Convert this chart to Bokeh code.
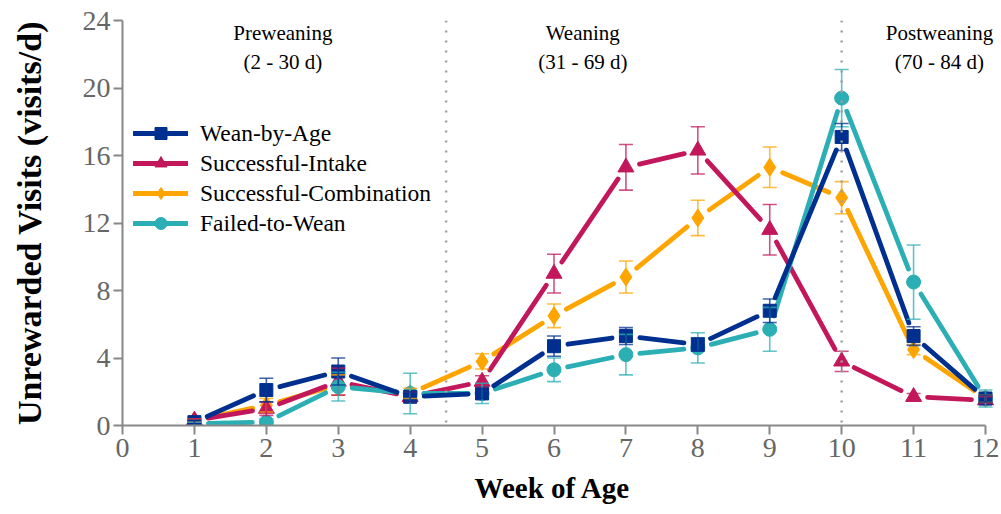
import numpy as np
from bokeh.plotting import figure
from bokeh.models import (ColumnDataSource, Whisker, TeeHead, Span, Legend,
                          LegendItem, Range1d, FixedTicker, Label, Title)
from bokeh.embed import file_html
from bokeh.resources import INLINE

# ---------------- data ----------------
weeks = [1, 2, 3, 4, 5, 6, 7, 8, 9, 10, 11, 12]

wean_by_age = [0.2, 2.1, 3.2, 1.7, 1.9, 4.7, 5.3, 4.8, 6.8, 17.1, 5.3, 1.6]
wean_by_age_se = [0.1, 0.7, 0.8, 0.3, 0.3, 0.6, 0.5, 0.4, 0.7, 0.8, 0.55, 0.2]

successful_intake = [0.3, 1.0, 2.6, 1.7, 2.6, 9.0, 15.3, 16.3, 11.6, 3.8, 1.7, 1.5]
successful_intake_se = [0.1, 0.4, 0.8, 0.3, 0.35, 1.15, 1.35, 1.4, 1.5, 0.6, 0.2, 0.2]

successful_combination = [0.3, 1.2, 2.4, 1.9, 3.8, 6.5, 8.8, 12.3, 15.3, 13.5, 4.5, 1.6]
successful_combination_se = [0.1, 0.4, 0.6, 0.3, 0.45, 0.7, 0.95, 1.05, 1.2, 0.95, 0.3, 0.2]

failed_to_wean = [0.1, 0.2, 2.3, 1.9, 1.9, 3.3, 4.2, 4.6, 5.7, 19.4, 8.5, 1.6]
failed_to_wean_se = [0.1, 0.2, 0.85, 1.2, 0.6, 0.7, 1.2, 0.9, 1.3, 1.7, 2.2, 0.5]

x_ticks = [0, 1, 2, 3, 4, 5, 6, 7, 8, 9, 10, 11, 12]
y_ticks = [0, 4, 8, 12, 16, 20, 24]

phase_names = ["Preweaning", "Weaning", "Postweaning"]
phase_days = ["(2 - 30 d)", "(31 - 69 d)", "(70 - 84 d)"]
phase_boundaries = [4.5, 10]

# ---------------- layout ----------------
W, H = 1001, 514
LEFT, TOP, BOTTOM = 122, 20, 89
AXIS_RIGHT_PX = 985             # where week 12 sits
XMAX, YMAX = 12, 24
FH = H - TOP - BOTTOM
SX = (AXIS_RIGHT_PX - LEFT) / XMAX   # pixels per week
SY = FH / YMAX                       # pixels per visit/d
XEND = XMAX + (W - AXIS_RIGHT_PX) / SX
GAP = 14                        # px gap between line ends and marker centres

FONT = "Liberation Serif"

p = figure(width=W, height=H, x_range=Range1d(0, XEND), y_range=Range1d(0, YMAX),
           output_backend="svg", toolbar_location=None,
           min_border_left=LEFT, min_border_right=0,
           min_border_top=TOP, min_border_bottom=BOTTOM)
p.xgrid.visible = False
p.ygrid.visible = False
p.outline_line_color = None
p.background_fill_color = "white"
p.border_fill_color = "white"

for ax in (p.xaxis[0], p.yaxis[0]):
    ax.axis_line_color = "#888888"
    ax.axis_line_width = 2
    ax.major_tick_line_color = "#888888"
    ax.major_tick_line_width = 2
    ax.major_tick_out = 9
    ax.major_tick_in = 0
    ax.minor_tick_out = 0
    ax.minor_tick_in = 0
    ax.major_label_text_font = FONT
    ax.major_label_text_font_size = "28px"
    ax.major_label_text_color = "#666666"
    ax.axis_label_text_font = FONT
    ax.axis_label_text_font_style = "bold"
    ax.axis_label_text_color = "black"

p.xaxis.bounds = (0, XMAX)
p.yaxis.axis_label_text_font_size = "34px"
p.xaxis.ticker = FixedTicker(ticks=x_ticks)
p.yaxis.ticker = FixedTicker(ticks=y_ticks)
p.yaxis.axis_label = "Unrewarded Visits (visits/d)"
p.xaxis.major_label_standoff = 4
p.yaxis.major_label_standoff = 3
p.yaxis.axis_label_standoff = 32

# x-axis title centred under weeks 0..12 (not under the widened frame)
x_title = Title(text="Week of Age", align="left", offset=352, standoff=21,
                text_font=FONT, text_font_size="29px", text_font_style="bold",
                text_color="black")
p.add_layout(x_title, "below")

for loc in phase_boundaries:
    p.add_layout(Span(location=loc, dimension="height", line_color="#a0a0a0",
                      line_width=2.5, line_dash="2 8"))

phase_x = [2.23, 6.4, 11.36]
for xi, nm, dy in zip(phase_x, phase_names, phase_days):
    for txt, yy in ((nm, 23.23), (dy, 21.57)):
        p.add_layout(Label(x=xi, y=yy, text=txt, text_font=FONT, text_font_size="21px",
                           text_align="center", text_baseline="middle",
                           text_color="black"))

series = [
    ("Wean-by-Age", wean_by_age, wean_by_age_se, "#00308F", "square", 13),
    ("Successful-Intake", successful_intake, successful_intake_se, "#C2185B", "triangle", 16),
    ("Successful-Combination", successful_combination, successful_combination_se, "#FFA500", "diamond", 18),
    ("Failed-to-Wean", failed_to_wean, failed_to_wean_se, "#2BAFB5", "circle", 14),
]

def gapped_segments(xs, ys):
    xs = np.asarray(xs, float)
    ys = np.asarray(ys, float)
    x0, y0, x1, y1 = xs[:-1], ys[:-1], xs[1:], ys[1:]
    L = np.hypot((x1 - x0) * SX, (y1 - y0) * SY)
    f = np.where(L > 2 * GAP, GAP / L, 0.5)
    return (x0 + (x1 - x0) * f, y0 + (y1 - y0) * f,
            x1 - (x1 - x0) * f, y1 - (y1 - y0) * f)

line_r = {}
mark_r = {}
draw_order = [2, 1, 3, 0]
for i in draw_order:
    name, vals, se, col, marker, size = series[i]
    a, b, c, d = gapped_segments(weeks, vals)
    line_r[i] = p.segment(x0=a, y0=b, x1=c, y1=d, line_color=col, line_width=4.8,
                          line_cap="round")

for i in draw_order:
    name, vals, se, col, marker, size = series[i]
    v = np.asarray(vals)
    s = np.asarray(se)
    src = ColumnDataSource(dict(x=weeks, y=vals, upper=v + s, lower=v - s))
    p.add_layout(Whisker(source=src, base="x", upper="upper", lower="lower",
                         line_color=col, line_alpha=0.75, line_width=1.6,
                         upper_head=TeeHead(size=14, line_color=col, line_alpha=0.75, line_width=1.6),
                         lower_head=TeeHead(size=14, line_color=col, line_alpha=0.75, line_width=1.6),
                         level="glyph"))
    mark_r[i] = p.scatter(x="x", y="y", source=src, marker=marker, size=size,
                          fill_color=col, line_color=col, line_width=1)

items = [LegendItem(label=series[i][0], renderers=[line_r[i], mark_r[i]]) for i in range(4)]
legend = Legend(items=items, location=(11, 187), glyph_width=55, glyph_height=30,
                label_height=30, label_standoff=12, spacing=0, padding=0, margin=0,
                border_line_color=None, background_fill_alpha=0,
                label_text_font=FONT, label_text_font_size="23.5px",
                label_text_color="black")
p.add_layout(legend, "center")

open("out.html", "w").write(file_html(p, INLINE))
